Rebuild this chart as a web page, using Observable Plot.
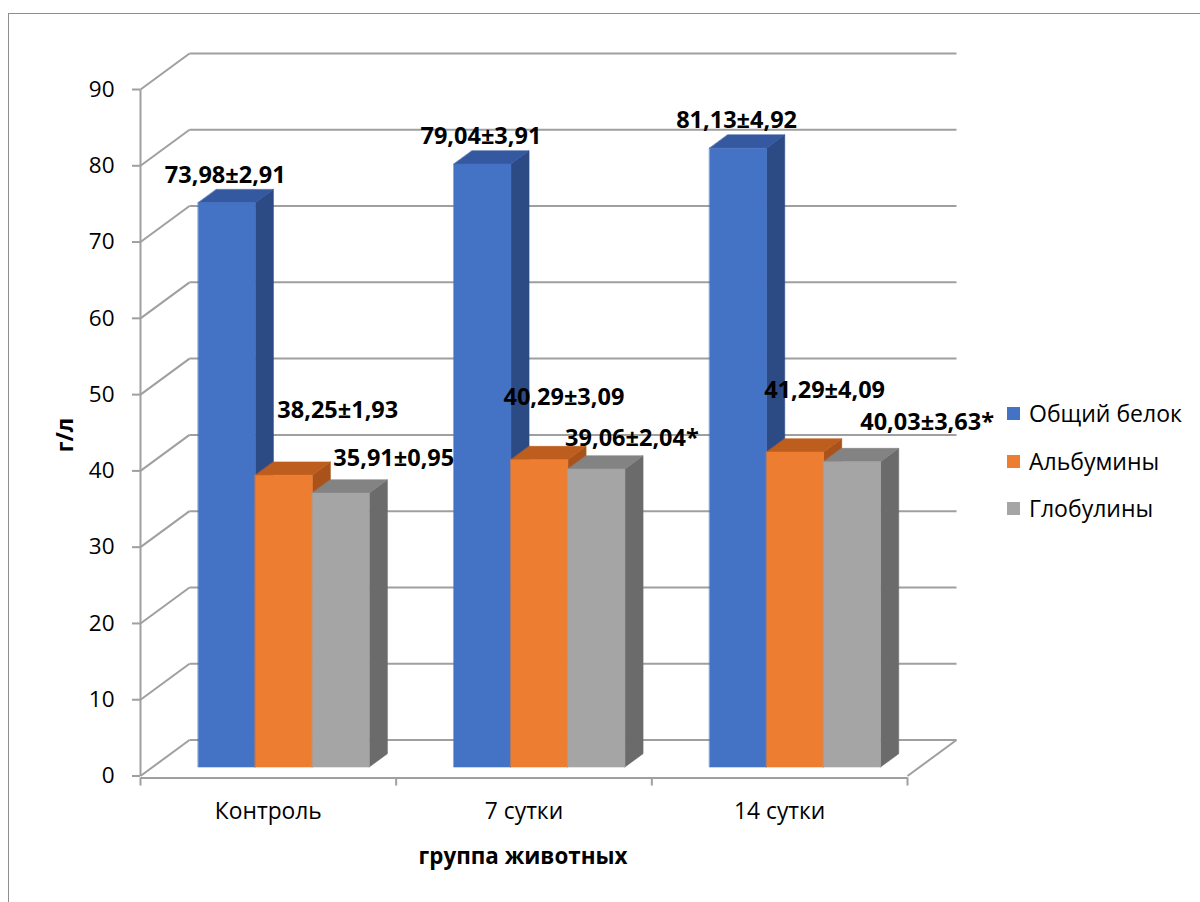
<!DOCTYPE html>
<html>
<head>
<meta charset="utf-8">
<script src="https://cdn.jsdelivr.net/npm/d3@7"></script>
<script src="https://cdn.jsdelivr.net/npm/@observablehq/plot@0.6"></script>
<style>
  body { margin: 0; background: #fff; }
  #chart { position: relative; width: 1200px; height: 902px; overflow: hidden; font-family: "Open Sans", sans-serif; color: #000; }
  #frame { position: absolute; left: 8px; top: 13px; width: 1400px; height: 1100px; border-left: 1.3px solid #8f8f8f; border-top: 1.3px solid #8f8f8f; }
  #plot { position: absolute; left: 0; top: 0; }
  .title { position: absolute; font-weight: 700; font-size: 22.4px; white-space: nowrap; }
  #ytitle { left: 64px; top: 435px; transform: translate(-50%, -50%) rotate(-90deg); }
  #xtitle { left: 523px; top: 855px; transform: translate(-50%, -50%); }
  #legend { position: absolute; left: 1007px; top: 0; }
  .item { position: absolute; left: 0; display: flex; align-items: center; white-space: nowrap; font-size: 23px; transform: translateY(-50%); }
  .swatch { width: 13px; height: 13px; margin-right: 9px; }
</style>
</head>
<body>
<div id="chart">
  <div id="frame"></div>
  <div id="plot"></div>
  <div class="title" id="ytitle">г/л</div>
  <div class="title" id="xtitle">группа животных</div>
  <div id="legend"></div>
</div>
<script>
// Animal groups (categories) and the three measured serum protein fractions, g/l
const groups = ["Контроль", "7 сутки", "14 сутки"];
const seriesNames = ["Общий белок", "Альбумины", "Глобулины"];
const totalProtein = [73.98, 79.04, 81.13];
const albumins = [38.25, 40.29, 41.29];
const globulins = [35.91, 39.06, 40.03];
const totalProteinSd = [2.91, 3.91, 4.92];
const albuminsSd = [1.93, 3.09, 4.09];
const globulinsSd = [0.95, 2.04, 3.63];
const globulinsSignificant = [false, true, true];
const yTicks = [0, 10, 20, 30, 40, 50, 60, 70, 80, 90];

// Face colours per series: front, top, side
const palette = [
  {front: "#4472c4", top: "#3459a0", side: "#2c4b84"},
  {front: "#ed7d31", top: "#bd5e1f", side: "#a9531b"},
  {front: "#a5a5a5", top: "#838383", side: "#6b6b6b"}
];
// Manually placed data labels: [dx, dy] in pixels from the top centre of each bar's front face
const labelNudge = [
  [[-1.5, -27.5], [-1.5, -27.5], [-1.5, -27.5]],
  [[54, -65], [24.5, -62], [29.5, -62]],
  [[53, -35], [35.5, -31], [75, -39]]
];

const values = [totalProtein, albumins, globulins];
const sds = [totalProteinSd, albuminsSd, globulinsSd];
const starred = [[false, false, false], [false, false, false], globulinsSignificant];

// Plot frame geometry
const W = 1200, H = 902;
const mLeft = 140, mRight = 293, mTop = 89, mBottom = 126.5;
const CAT_PX = (W - mLeft - mRight) / 3;
const VAL_PX = (H - mTop - mBottom) / 90;

// Oblique 3D projection expressed in data units: depth 0 = front plane, 1 = back wall
const WALL = {x: 49 / CAT_PX, y: 36 / VAL_PX};
const P = (xc, v, depth) => ({x: xc + depth * WALL.x, y: v + depth * WALL.y});

const BAR_START = 0.178, BAR_W = 57 / CAT_PX, D_FRONT = 0.25, D_BACK = 0.62;

const fmt = v => v.toFixed(2).replace(".", ",");

// Bar faces as closed polygons, drawn left to right so later bars hide earlier side faces
const faces = [];
const labels = [];
groups.forEach((g, gi) => {
  seriesNames.forEach((s, si) => {
    const v = values[si][gi];
    const x0 = gi + BAR_START + si * BAR_W, x1 = x0 + BAR_W;
    const c = palette[si];
    const poly = (name, pts, color) => pts.forEach(p => faces.push({id: `${gi}-${si}-${name}`, x: p.x, y: p.y, color}));
    poly("side", [P(x1, 0, D_FRONT), P(x1, 0, D_BACK), P(x1, v, D_BACK), P(x1, v, D_FRONT)], c.side);
    poly("top", [P(x0, v, D_FRONT), P(x1, v, D_FRONT), P(x1, v, D_BACK), P(x0, v, D_BACK)], c.top);
    poly("front", [P(x0, 0, D_FRONT), P(x1, 0, D_FRONT), P(x1, v, D_FRONT), P(x0, v, D_FRONT)], c.front);
    const a = P((x0 + x1) / 2, v, D_FRONT);
    const [dx, dy] = labelNudge[si][gi];
    labels.push({x: a.x, y: a.y, dx, dy, text: `${fmt(v)}±${fmt(sds[si][gi])}${starred[si][gi] ? "*" : ""}`});
  });
});

// Walls and floor
const gridColor = "#9f9f9f";
const backLines = yTicks.map(t => ({a: P(0, t, 1), b: P(3, t, 1)}));
const sideLines = yTicks.map(t => ({a: P(0, t, 0), b: P(0, t, 1)}));
const floorEdge = [{a: P(3, 0, 0), b: P(3, 0, 1)}];
const link = (data, extra = {}) => Plot.link(data, {
  x1: d => d.a.x, y1: d => d.a.y, x2: d => d.b.x, y2: d => d.b.y,
  stroke: gridColor, strokeWidth: 2, ...extra
});

// Data labels: constant dx/dy per text mark, one mark per label
const labelMarks = labels.map(l => Plot.text([l], {
  x: "x", y: "y", dx: l.dx, dy: l.dy, text: "text", fontSize: 23.5, fontWeight: 700, fill: "#000"
}));

const chart = Plot.plot({
  width: W, height: H,
  marginLeft: mLeft, marginRight: mRight, marginTop: mTop, marginBottom: mBottom,
  x: {domain: [0, 3]},
  y: {domain: [0, 90]},
  color: {type: "identity"},
  style: {fontFamily: "'Open Sans', sans-serif", background: "transparent", overflow: "visible"},
  marks: [
    link(backLines),
    link(sideLines),
    link(floorEdge),
    Plot.link([0], {x1: 0, x2: 3, y1: 0, y2: 0, dy: 2, stroke: gridColor, strokeWidth: 2}),
    Plot.link([0], {x1: 0, x2: 0, y1: 0, y2: 90, stroke: gridColor, strokeWidth: 2}),
    Plot.axisY(yTicks, {
      tickSize: 8, tickPadding: 18, stroke: gridColor, strokeWidth: 2,
      fill: "#000", fontSize: 22.5, label: null, tickFormat: d => String(d)
    }),
    Plot.axisX([0, 1, 2, 3], {
      tickSize: 8, dy: 2, stroke: gridColor, strokeWidth: 2, tickFormat: () => "", label: null
    }),
    Plot.text(groups, {x: (d, i) => i + 0.5, y: () => 0, dy: 35.5, text: d => d, fontSize: 22.8, fill: "#000"}),
    Plot.line(faces, {x: "x", y: "y", z: "id", fill: "color", stroke: "color", strokeWidth: 0.6, curve: "linear-closed"}),
    ...labelMarks
  ]
});
document.getElementById("plot").appendChild(chart);

// Legend
const legend = document.getElementById("legend");
const legendY = [413, 461, 508];
seriesNames.forEach((name, i) => {
  const item = document.createElement("div");
  item.className = "item";
  item.style.top = legendY[i] + "px";
  const sw = document.createElement("span");
  sw.className = "swatch";
  sw.style.background = palette[i].front;
  item.appendChild(sw);
  item.appendChild(document.createTextNode(name));
  legend.appendChild(item);
});
</script>
</body>
</html>
